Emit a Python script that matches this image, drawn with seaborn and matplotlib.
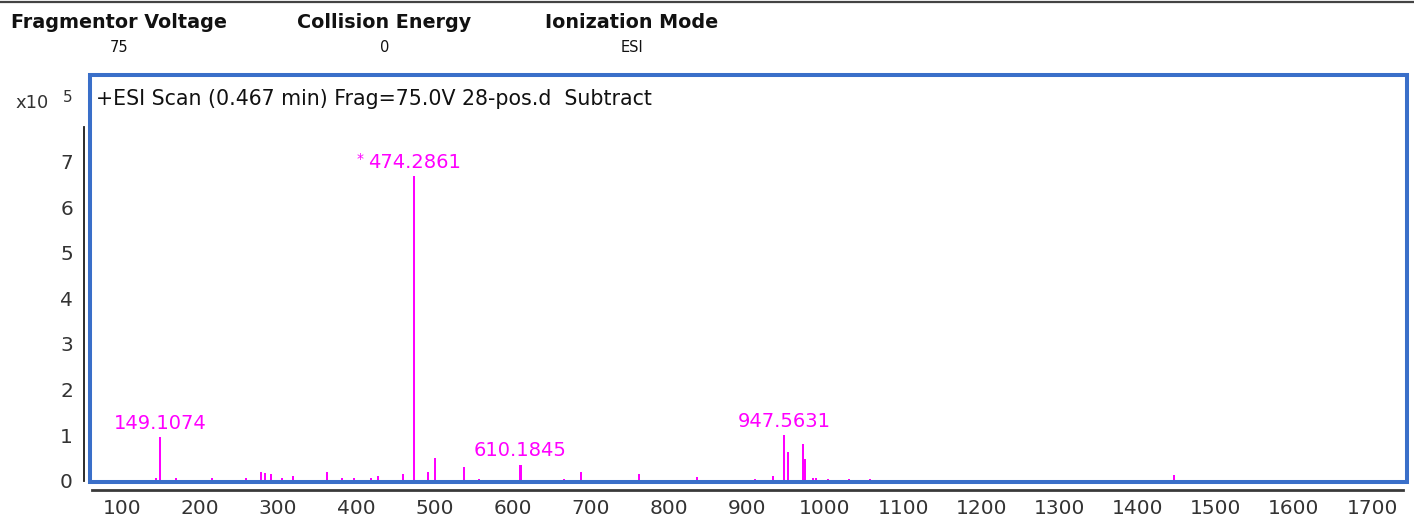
import numpy as np
import matplotlib
matplotlib.use("Agg")
import matplotlib.pyplot as plt
from matplotlib.patches import Rectangle
from matplotlib.lines import Line2D
import seaborn as sns

# Acquisition parameters shown in the header
param_names = ["Fragmentor Voltage", "Collision Energy", "Ionization Mode"]
param_values = ["75", "0", "ESI"]

# Centroided spectrum: m/z and abundance (x10^5 counts)
mz = [143.9, 149.1074, 169.1, 215.2, 258.7, 277.9, 283.4, 291.4, 304.7, 318.8,
      362.3, 381.5, 397.6, 418.6, 428.3, 460.3, 474.2861, 492.3, 500.9, 538.0,
      557.6, 610.1845, 666.3, 687.7, 762.3, 835.8, 910.4, 933.8, 947.5631, 952.2,
      971.4, 974.3, 985.0, 988.4, 1003.4, 1031.0, 1057.5, 1446.9]
abundance = [0.06, 0.95, 0.06, 0.06, 0.06, 0.20, 0.16, 0.15, 0.06, 0.10,
             0.20, 0.06, 0.06, 0.06, 0.10, 0.15, 6.68, 0.18, 0.50, 0.29,
             0.03, 0.35, 0.04, 0.20, 0.14, 0.08, 0.04, 0.11, 1.00, 0.62,
             0.80, 0.48, 0.06, 0.06, 0.04, 0.04, 0.04, 0.12]

# Peaks annotated with their m/z
labeled_mz = [149.1074, 474.2861, 610.1845, 947.5631]
starred_mz = 474.2861

x_ticks = list(range(100, 1800, 100))
y_ticks = list(range(0, 8))

title = "+ESI Scan (0.467 min) Frag=75.0V 28-pos.d  Subtract"

sns.set_style("white")
plt.rcParams["font.family"] = ["DejaVu Sans"]

W, H = 1414, 526
fig = plt.figure(figsize=(W / 100, H / 100), dpi=100)
fig.patch.set_facecolor("white")

def fx(px):
    return px / W

def fy(py):
    return 1 - py / H

# plot frame (pixel box)
L, R, T, B = 90, 1407, 75, 482
ax = fig.add_axes([fx(L), fy(B), fx(R) - fx(L), fy(T) - fy(B)])

magenta = "#FF00FF"
bar_units = 2.8
mz_arr = np.array(mz)
min_gap = np.min(np.diff(np.sort(mz_arr)))
sns.barplot(x=mz, y=abundance, native_scale=True, color=magenta, saturation=1,
            width=bar_units / min_gap, linewidth=0, errorbar=None, ax=ax, zorder=2)

ax.set_xlim(59.4, 1744.7)
ax.set_ylim(-0.0285, 8.903)
ax.set_xlabel("")
ax.set_ylabel("")

ax.set_xticks(x_ticks)
ax.set_xticklabels([str(v) for v in x_ticks])
ax.set_yticks(y_ticks)
ax.set_yticklabels([str(v) for v in y_ticks])

for side in ["top", "right"]:
    ax.spines[side].set_visible(False)
ax.spines["left"].set_position(("outward", 6 * 0.72))
ax.spines["left"].set_bounds(0, 7.77)
ax.spines["left"].set_color("#1a1a1a")
ax.spines["left"].set_linewidth(1.3)
ax.spines["bottom"].set_position(("outward", 7.5 * 0.72))
ax.spines["bottom"].set_bounds(62, 1740)
ax.spines["bottom"].set_color("#3a3a3a")
ax.spines["bottom"].set_linewidth(2.0)

ax.tick_params(axis="both", direction="out", length=5, width=1.1, color="#1a1a1a",
               labelsize=14.5, labelcolor="#333333", pad=2)
ax.tick_params(axis="y", pad=3)

# blue plot frame
frame = Rectangle((0, 0), 1, 1, transform=ax.transAxes, fill=False,
                  edgecolor="#3A6FC9", linewidth=2.9, clip_on=False, zorder=5)
ax.add_patch(frame)

# peak labels
abund_of = dict(zip(mz, abundance))
for m in labeled_mz:
    t = ax.annotate(f"{m:.4f}", xy=(m, abund_of[m]), xytext=(0, 6),
                    textcoords="offset points", ha="center", va="baseline",
                    color=magenta, fontsize=14, zorder=6)
    if m == starred_mz:
        ax.annotate("*", xy=(0, 1), xycoords=t, xytext=(-3, 1),
                    textcoords="offset points", ha="right", va="top",
                    color=magenta, fontsize=10, zorder=6)

# scan title inside the frame
ax.annotate(title, xy=(0, 1), xycoords="axes fraction", xytext=(4, -17.5),
            textcoords="offset points", ha="left", va="center",
            color="#111111", fontsize=14.8)

# exponent marker
fig.text(fx(15), fy(103), "x10", ha="left", va="center", fontsize=13,
         color="#333333")
fig.text(fx(63), fy(97), "5", ha="left", va="center", fontsize=11,
         color="#333333")

# header: parameter names and values
name_x = [119, 384.5, 632]
for nx, name, val in zip(name_x, param_names, param_values):
    fig.text(fx(nx), fy(23), name, ha="center", va="center", fontsize=13.8,
             fontweight="bold", color="#111111")
    fig.text(fx(nx), fy(47), val, ha="center", va="center", fontsize=10.5,
             color="#111111")

# top rule
fig.add_artist(Line2D([0, 1], [fy(1.5), fy(1.5)], transform=fig.transFigure,
                      color="#444444", linewidth=1.6))

fig.savefig("out.png", dpi=100)
